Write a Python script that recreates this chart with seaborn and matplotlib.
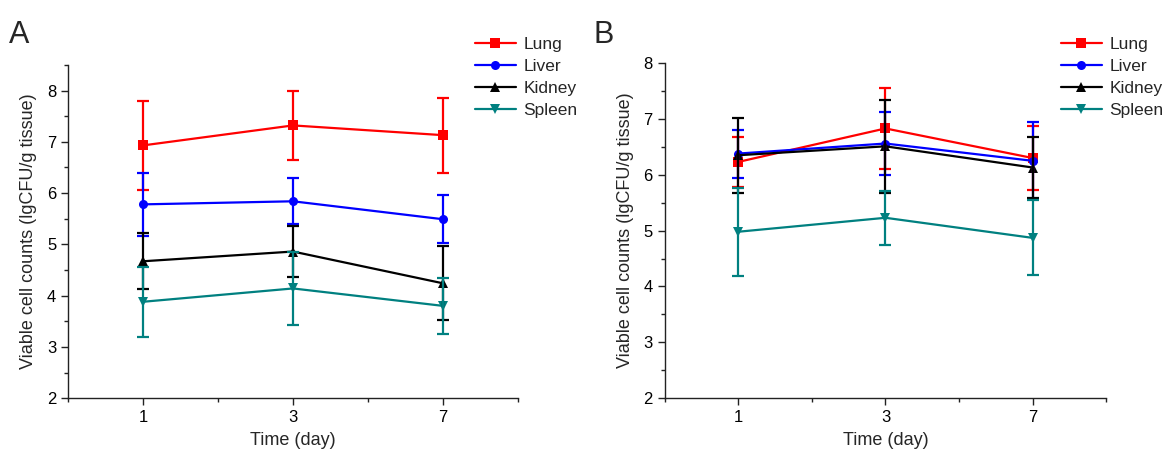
import matplotlib.pyplot as plt
import matplotlib.ticker as mticker
import pandas as pd
import seaborn as sns

# Data (mean and sd)
days = ["1", "3", "7"]
organs = ["Lung", "Liver", "Kidney", "Spleen"]

a_lung = [6.93, 7.32, 7.13]
a_liver = [5.78, 5.84, 5.49]
a_kidney = [4.67, 4.86, 4.24]
a_spleen = [3.88, 4.14, 3.80]
a_lung_sd = [0.87, 0.68, 0.73]
a_liver_sd = [0.62, 0.45, 0.47]
a_kidney_sd = [0.55, 0.50, 0.72]
a_spleen_sd = [0.68, 0.72, 0.54]

b_lung = [6.23, 6.83, 6.30]
b_liver = [6.38, 6.56, 6.25]
b_kidney = [6.35, 6.51, 6.13]
b_spleen = [4.98, 5.23, 4.87]
b_lung_sd = [0.45, 0.73, 0.58]
b_liver_sd = [0.43, 0.57, 0.69]
b_kidney_sd = [0.67, 0.83, 0.55]
b_spleen_sd = [0.79, 0.48, 0.67]

colors = ["#ff0000", "#0000ff", "#000000", "#008080"]
markers = ["s", "o", "^", "v"]

sns.set_style("ticks")
plt.rcParams["font.family"] = ["Liberation Sans", "DejaVu Sans"]


def make_df(means, sds):
    rows = []
    for organ, m, s in zip(organs, means, sds):
        for d, v, e in zip(days, m, s):
            rows.append({"Time": d, "Organ": organ, "value": v, "sd": e})
    return pd.DataFrame(rows)


def draw(ax, df, ymax):
    sns.lineplot(data=df, x="Time", y="value", hue="Organ", style="Organ",
                 hue_order=organs, style_order=organs, palette=colors,
                 markers=markers, dashes=False, markersize=6.5, linewidth=1.6,
                 markeredgewidth=0, sort=False, ax=ax)
    for organ, c in zip(organs, colors):
        sub = df[df["Organ"] == organ]
        ax.errorbar(sub["Time"], sub["value"], yerr=sub["sd"], fmt="none",
                    ecolor=c, elinewidth=1.6, capsize=4, capthick=1.6)
    ax.set_xlim(-0.5, 2.5)
    ax.set_ylim(2, ymax)
    ax.yaxis.set_major_locator(mticker.MultipleLocator(1))
    ax.yaxis.set_minor_locator(mticker.MultipleLocator(0.5))
    ax.xaxis.set_minor_locator(mticker.FixedLocator([-0.5, 0.5, 1.5, 2.5]))
    ax.tick_params(which="major", length=5, width=1, labelsize=12, direction="out",
                   colors="#222222", labelcolor="black")
    ax.tick_params(which="minor", length=3, width=1, direction="out", colors="#222222")
    ax.set_xlabel("Time (day)", fontsize=13, labelpad=5)
    ax.set_ylabel("Viable cell counts (lgCFU/g tissue)", fontsize=13, labelpad=7)
    sns.despine(ax=ax)
    for sp in ["left", "bottom"]:
        ax.spines[sp].set_linewidth(1.0)
        ax.spines[sp].set_color("#222222")


fig = plt.figure(figsize=(11.72, 4.54), dpi=100)
ax_a = fig.add_axes([0.058, 0.123, 0.384, 0.734])
ax_b = fig.add_axes([0.567, 0.123, 0.377, 0.738])

df_a = make_df([a_lung, a_liver, a_kidney, a_spleen],
               [a_lung_sd, a_liver_sd, a_kidney_sd, a_spleen_sd])
df_b = make_df([b_lung, b_liver, b_kidney, b_spleen],
               [b_lung_sd, b_liver_sd, b_kidney_sd, b_spleen_sd])

draw(ax_a, df_a, 8.5)
draw(ax_b, df_b, 8)

for ax, xleg in [(ax_a, 0.405), (ax_b, 0.905)]:
    h, l = ax.get_legend_handles_labels()
    ax.legend(h, l, loc="upper left", bbox_to_anchor=(xleg, 0.918),
              bbox_transform=fig.transFigure, frameon=False, fontsize=12.5,
              handlelength=2.4, handletextpad=0.4, labelspacing=0.38,
              borderpad=0, borderaxespad=0)

fig.text(0.008, 0.905, "A", fontsize=22)
fig.text(0.506, 0.905, "B", fontsize=22)

plt.savefig("out.png", dpi=100)
